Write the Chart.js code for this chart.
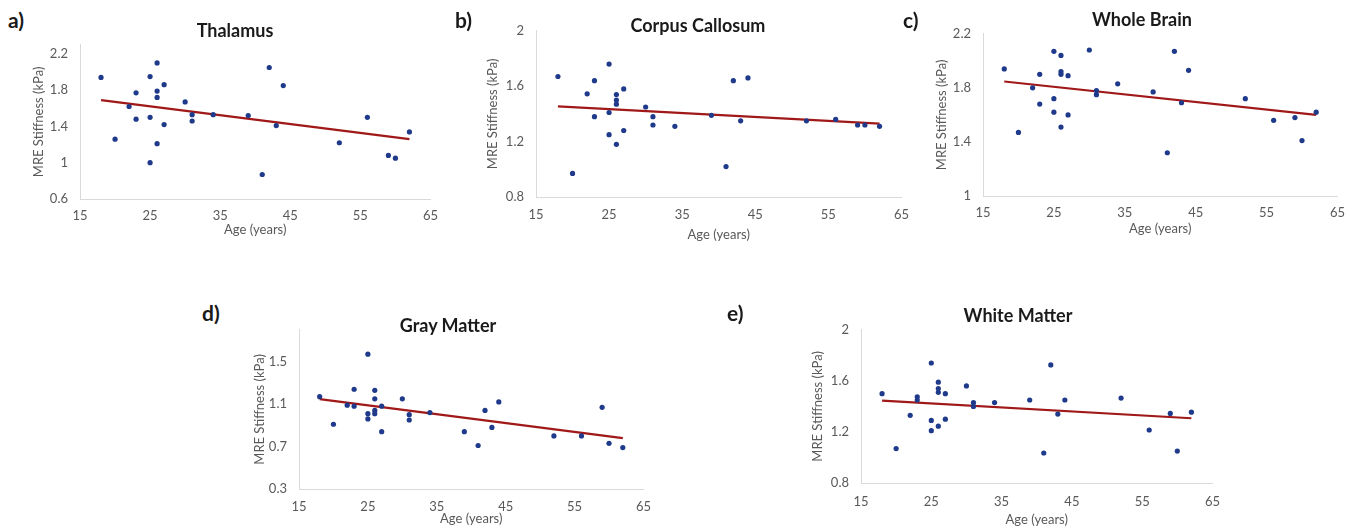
<!DOCTYPE html>
<html>
<head>
<meta charset="utf-8">
<script src="https://cdn.jsdelivr.net/npm/chart.js@4.4.1/dist/chart.umd.min.js"></script>
<style>
  html, body { margin:0; padding:0; background:#ffffff; }
  body { width:1360px; height:531px; position:relative; overflow:hidden; font-family:"Lato","Open Sans",sans-serif; }
  canvas { position:absolute; }
  .lbl { position:absolute; font-weight:bold; font-size:21px; color:#1a1a1a; line-height:1; }
  .ttl { position:absolute; font-weight:bold; font-size:18px; color:#1a1a1a; line-height:1; transform:translate(-50%,-50%); white-space:nowrap; }
</style>
</head>
<body>
<script>
// ---- data ----
const ages = [18,20,22,23,23,25,25,25,26,26,26,26,27,27,30,31,31,34,39,41,42,43,44,52,56,59,60,62];
const thalamus = [1.94,1.26,1.62,1.77,1.48,1.95,1.50,1.00,2.10,1.79,1.72,1.21,1.86,1.42,1.67,1.53,1.46,1.53,1.52,0.87,2.05,1.41,1.85,1.22,1.50,1.08,1.05,1.34];
const corpusCallosum = [1.67,0.97,1.545,1.64,1.38,1.76,1.41,1.25,1.54,1.50,1.47,1.18,1.58,1.28,1.45,1.38,1.32,1.31,1.39,1.02,1.64,1.35,1.66,1.35,1.36,1.32,1.32,1.31];
const wholeBrain = [1.94,1.47,1.80,1.90,1.68,2.07,1.72,1.62,2.04,1.92,1.90,1.51,1.89,1.60,2.08,1.78,1.75,1.83,1.77,1.32,2.07,1.69,1.93,1.72,1.56,1.58,1.41,1.62];
const grayMatter = [1.17,0.91,1.09,1.24,1.08,1.57,1.01,0.96,1.23,1.15,1.04,1.01,1.08,0.84,1.15,1.00,0.95,1.02,0.84,0.71,1.04,0.88,1.12,0.80,0.80,1.07,0.73,0.69];
const whiteMatter = [1.50,1.07,1.33,1.475,1.45,1.74,1.29,1.21,1.59,1.54,1.51,1.245,1.50,1.30,1.56,1.43,1.40,1.43,1.45,1.035,1.725,1.34,1.45,1.465,1.215,1.345,1.05,1.355];

// trend line end points (age 18 and age 62)
const trendAges = [18, 62];
const trendThalamus = [1.69, 1.26];
const trendCorpus = [1.455, 1.33];
const trendWhole = [1.847, 1.60];
const trendGray = [1.147, 0.78];
const trendWhite = [1.445, 1.307];

const xTicks = [15,25,35,45,55,65];
const yTicksThalamus = [0.6,1,1.4,1.8,2.2];
const yTicksCorpus = [0.8,1.2,1.6,2];
const yTicksWhole = [1,1.4,1.8,2.2];
const yTicksGray = [0.3,0.7,1.1,1.5];
const yTicksWhite = [0.8,1.2,1.6,2];

const titles = ['Thalamus','Corpus Callosum','Whole Brain','Gray Matter','White Matter'];
const letters = ['a)','b)','c)','d)','e)'];
const xTitle = 'Age (years)';
const yTitle = 'MRE Stiffness (kPa)';

const panels = [
  {vals: thalamus, trend: trendThalamus, yTicks: yTicksThalamus, yMin: 0.6, yMax: 2.3},
  {vals: corpusCallosum, trend: trendCorpus, yTicks: yTicksCorpus, yMin: 0.8, yMax: 2},
  {vals: wholeBrain, trend: trendWhole, yTicks: yTicksWhole, yMin: 1, yMax: 2.2},
  {vals: grayMatter, trend: trendGray, yTicks: yTicksGray, yMin: 0.3, yMax: 1.8},
  {vals: whiteMatter, trend: trendWhite, yTicks: yTicksWhite, yMin: 0.8, yMax: 2}
];

// ---- layout (page pixels) ----
const layout = [
  {L:80,  R:433,  T:37,  B:199, yTitleX:39,  xTitleY:230, xTickY:216, titleX:235,  titleY:30,  letX:8,   letY:9},
  {L:536, R:905,  T:23,  B:197, yTitleX:493, xTitleY:235, xTickY:215, titleX:698,  titleY:25,  letX:455, letY:9},
  {L:983, R:1340, T:26,  B:196, yTitleX:942, xTitleY:229, xTickY:213, titleX:1142, titleY:19,  letX:903, letY:9},
  {L:299, R:647,  T:322, B:489, yTitleX:260, xTitleY:519, xTickY:507, titleX:448,  titleY:325, letX:202, letY:302},
  {L:861, R:1217, T:322, B:483, yTitleX:818, xTitleY:520, xTickY:502, titleX:1018, titleY:315, letX:727, letY:302}
];

const tickFont = {family:'Lato', size:13};
const titleFont = {family:'Lato', size:13, lineHeight:1.2};
const tickColor = '#595959';
const axisColor = '#d9d9d9';
const dotColor = '#1f3a8a';
const trendColor = '#a01818';

panels.forEach((p, i) => {
  const g = layout[i];
  const half = titleFont.size * titleFont.lineHeight / 2;
  const padTop = 12, padRight = 14;
  const cLeft = Math.round(g.yTitleX - half);
  const cTop = g.T - padTop;
  const cRight = g.R + padRight;
  const cBottom = Math.round(g.xTitleY + half);
  const yW = g.L - cLeft;
  const xH = cBottom - g.B;

  const cv = document.createElement('canvas');
  cv.width = cRight - cLeft; cv.height = cBottom - cTop;
  cv.style.left = cLeft + 'px'; cv.style.top = cTop + 'px';
  cv.style.width = (cRight - cLeft) + 'px'; cv.style.height = (cBottom - cTop) + 'px';
  document.body.appendChild(cv);

  const let_ = document.createElement('div');
  let_.className = 'lbl'; let_.textContent = letters[i];
  let_.style.left = g.letX + 'px'; let_.style.top = g.letY + 'px';
  document.body.appendChild(let_);

  const tt = document.createElement('div');
  tt.className = 'ttl'; tt.textContent = titles[i];
  tt.style.left = g.titleX + 'px'; tt.style.top = g.titleY + 'px';
  document.body.appendChild(tt);

  new Chart(cv, {
    type: 'scatter',
    data: {
      datasets: [
        {
          type: 'scatter',
          data: ages.map((a, k) => ({x: a, y: p.vals[k]})),
          backgroundColor: dotColor, borderColor: dotColor, borderWidth: 0,
          pointRadius: 2.6, pointHoverRadius: 2.6, order: 1
        },
        {
          type: 'line',
          data: trendAges.map((a, k) => ({x: a, y: p.trend[k]})),
          borderColor: trendColor, borderWidth: 2.2, pointRadius: 0, fill: false,
          tension: 0, order: 2
        }
      ]
    },
    options: {
      responsive: false, animation: false, devicePixelRatio: 1,
      layout: {padding: {top: padTop, right: padRight, left: 0, bottom: 0}},
      plugins: {legend: {display: false}, tooltip: {enabled: false}, title: {display: false}},
      scales: {
        x: {
          type: 'linear', min: 15, max: 65,
          afterBuildTicks: s => { s.ticks = xTicks.map(v => ({value: v})); },
          afterFit: s => { s.height = xH; },
          grid: {display: false, drawTicks: false},
          border: {display: true, color: axisColor, width: 1},
          ticks: {font: tickFont, color: tickColor, padding: g.xTickY - g.B - 8, maxRotation: 0, autoSkip: false,
                  callback: v => String(v)},
          title: {display: true, text: xTitle, font: titleFont, color: tickColor, padding: 0}
        },
        y: {
          type: 'linear', min: p.yMin, max: p.yMax,
          afterBuildTicks: s => { s.ticks = p.yTicks.map(v => ({value: v})); },
          afterFit: s => { s.width = yW; },
          grid: {display: false, drawTicks: false},
          border: {display: true, color: axisColor, width: 1},
          ticks: {font: tickFont, color: tickColor, padding: 12, autoSkip: false,
                  callback: v => String(v)},
          title: {display: true, text: yTitle, font: titleFont, color: tickColor, padding: 0}
        }
      }
    }
  });
});
</script>
</body>
</html>
